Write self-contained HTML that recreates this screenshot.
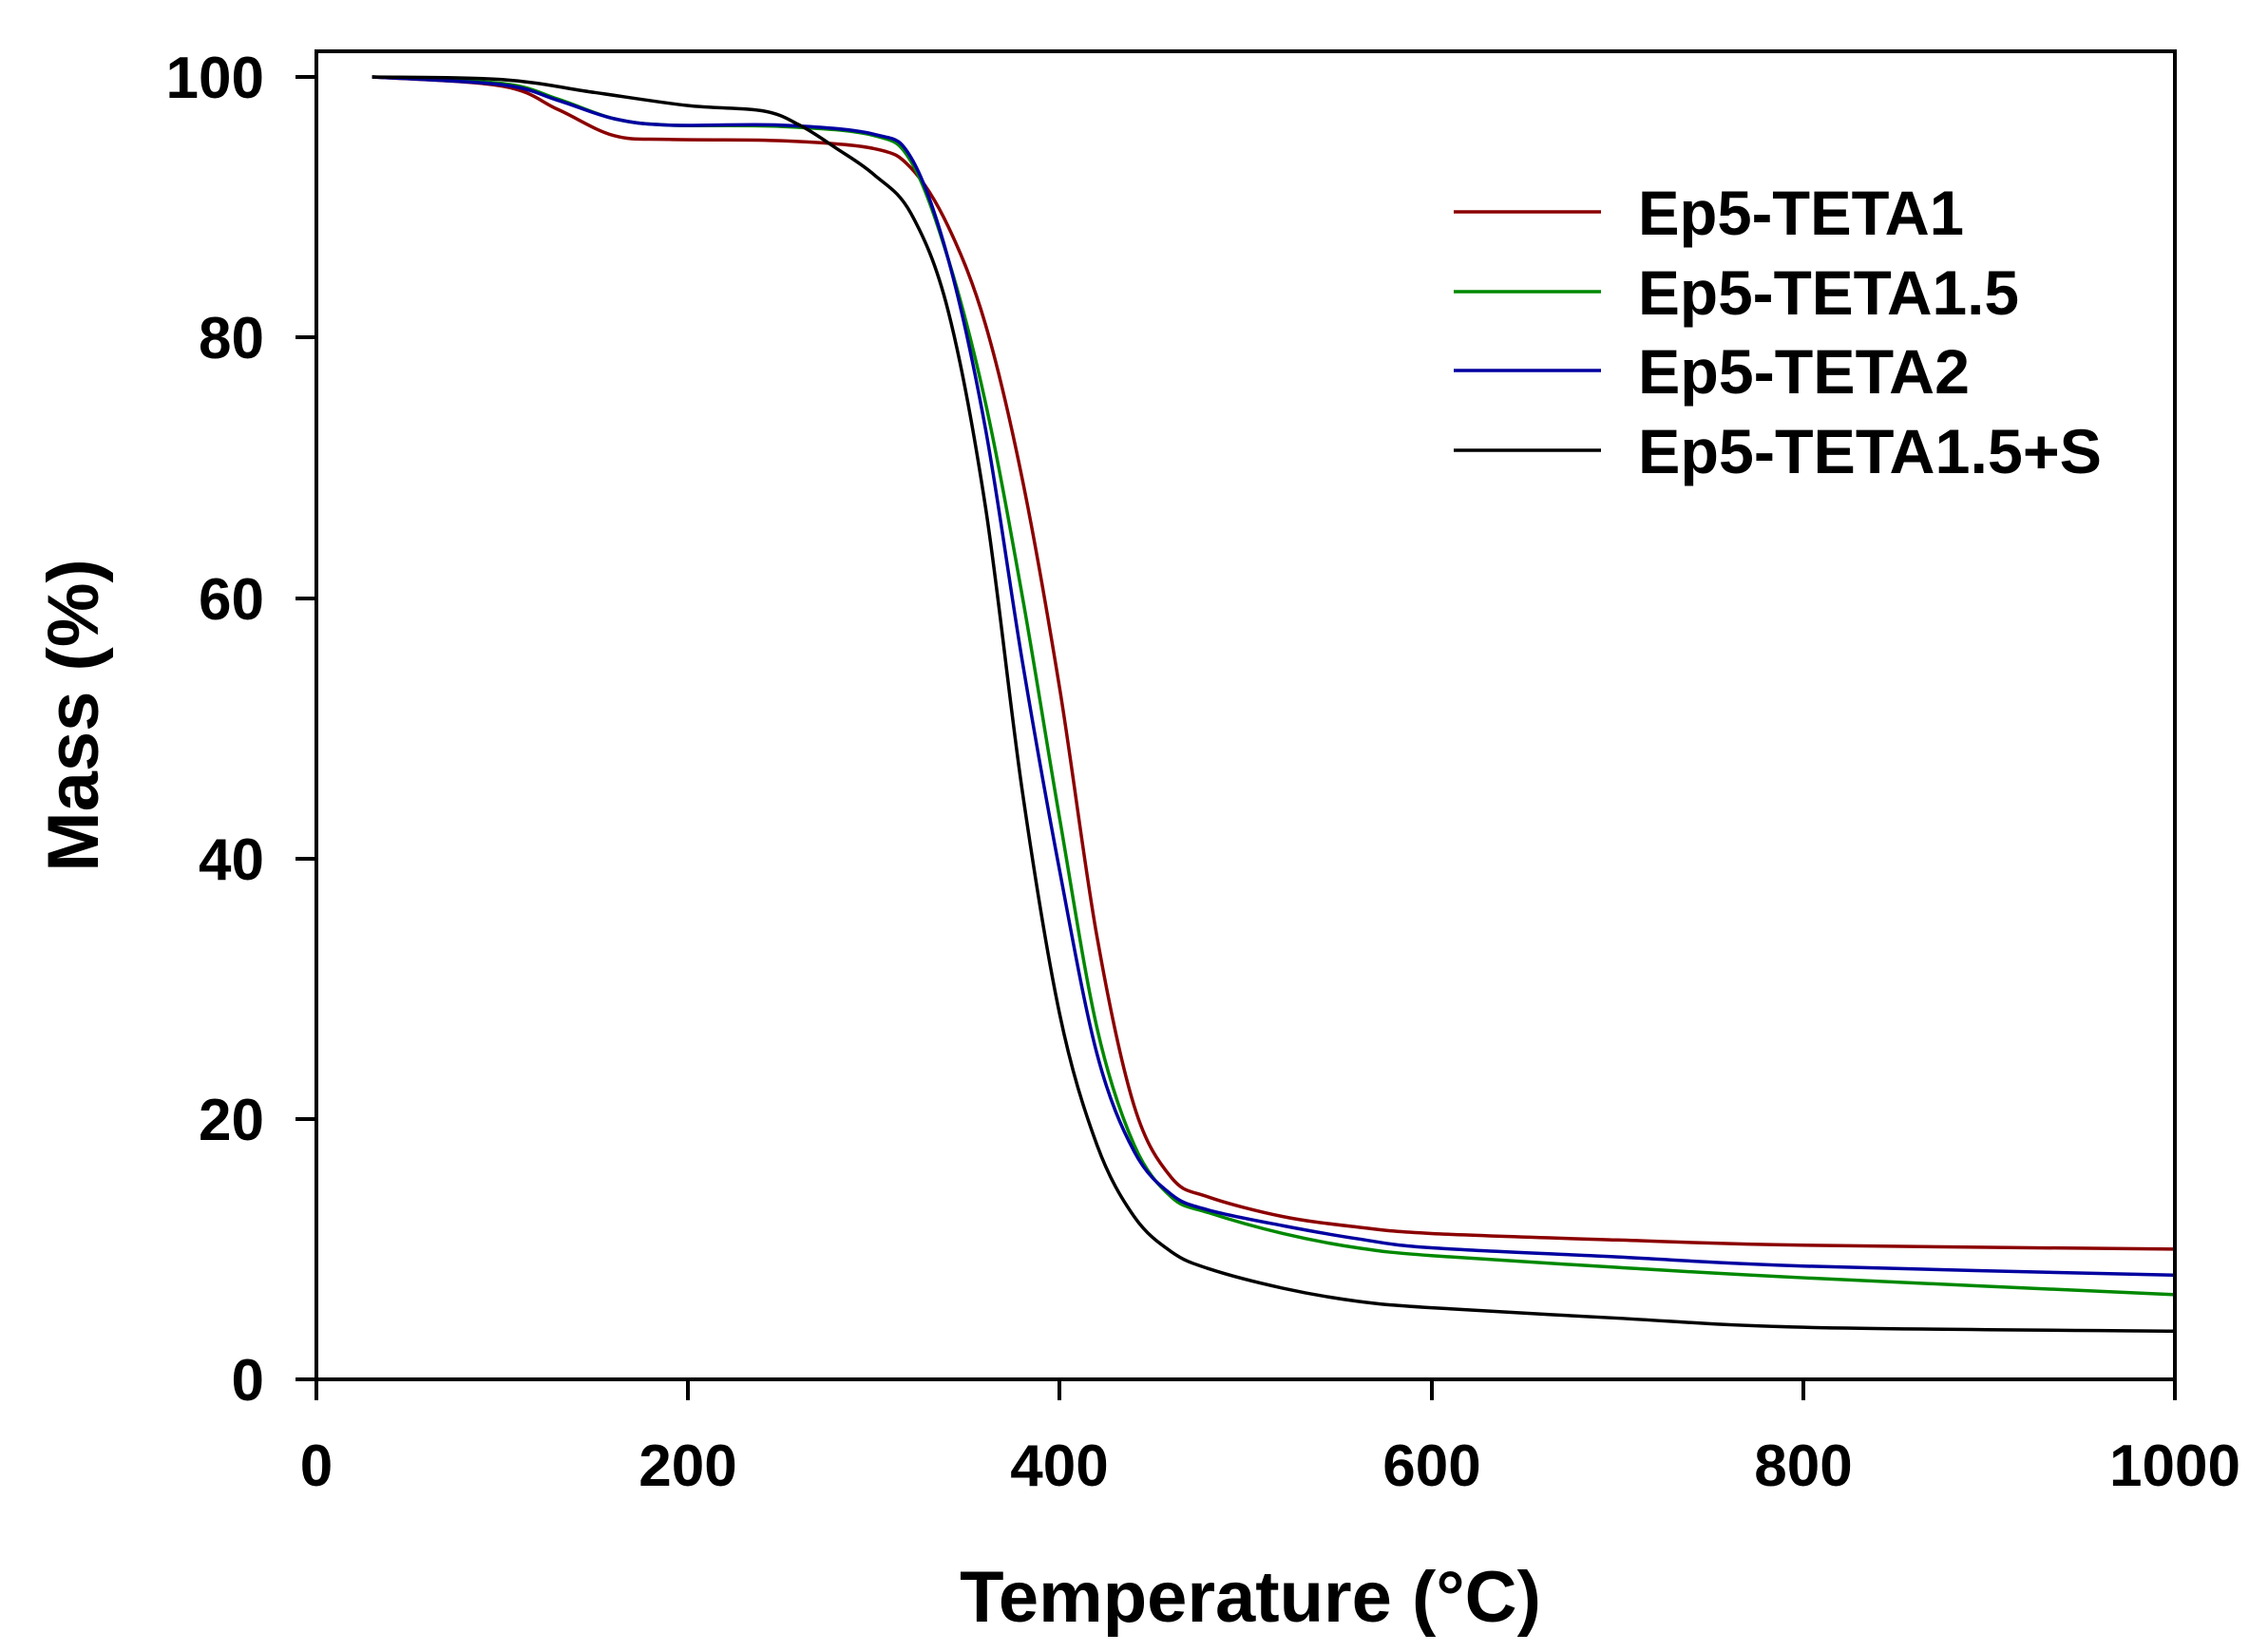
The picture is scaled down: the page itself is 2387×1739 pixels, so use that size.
<!DOCTYPE html>
<html><head><meta charset="utf-8"><style>
html,body{margin:0;padding:0;background:#fff;}
svg{display:block;}
text{font-family:"Liberation Sans",Arial,sans-serif;font-weight:bold;fill:#000;}
</style></head><body>
<svg id="s" width="2387" height="1739" viewBox="0 0 2387 1739" xmlns="http://www.w3.org/2000/svg">
<rect width="2387" height="1739" fill="#fff"/>
<g id="curves" fill="none" stroke-width="3.5" stroke-linejoin="round"></g>
<rect x="333" y="54" width="1956" height="1398" fill="none" stroke="#000" stroke-width="4"/>
<g stroke="#000" stroke-width="4">
<line x1="311" y1="81" x2="333" y2="81"/><line x1="311" y1="355" x2="333" y2="355"/>
<line x1="311" y1="630" x2="333" y2="630"/><line x1="311" y1="904" x2="333" y2="904"/>
<line x1="311" y1="1178" x2="333" y2="1178"/><line x1="311" y1="1452" x2="333" y2="1452"/>
<line x1="333" y1="1452" x2="333" y2="1474"/><line x1="724" y1="1452" x2="724" y2="1474"/>
<line x1="1115" y1="1452" x2="1115" y2="1474"/><line x1="1507" y1="1452" x2="1507" y2="1474"/>
<line x1="1898" y1="1452" x2="1898" y2="1474"/><line x1="2289" y1="1452" x2="2289" y2="1474"/>
</g>
<g font-size="62" text-anchor="end">
<text x="278" y="103">100</text><text x="278" y="377">80</text><text x="278" y="652">60</text>
<text x="278" y="926">40</text><text x="278" y="1200">20</text><text x="278" y="1474">0</text>
</g>
<g font-size="62" text-anchor="middle">
<text x="333" y="1564">0</text><text x="724" y="1564">200</text><text x="1115" y="1564">400</text>
<text x="1507" y="1564">600</text><text x="1898" y="1564">800</text><text x="2289" y="1564">1000</text>
</g>
<text x="1316" y="1707" font-size="76" text-anchor="middle">Temperature (°C)</text>
<text transform="translate(103,753) rotate(-90)" font-size="76" text-anchor="middle">Mass (%)</text>
<g stroke-width="3.5">
<line x1="1530" y1="223" x2="1685" y2="223" stroke="#8b0000"/>
<line x1="1530" y1="307" x2="1685" y2="307" stroke="#008800"/>
<line x1="1530" y1="390" x2="1685" y2="390" stroke="#0000a0"/>
<line x1="1530" y1="474" x2="1685" y2="474" stroke="#000"/>
</g>
<g font-size="66">
<text x="1724" y="247" textLength="343" lengthAdjust="spacingAndGlyphs">Ep5-TETA1</text>
<text x="1724" y="331" textLength="401" lengthAdjust="spacingAndGlyphs">Ep5-TETA1.5</text>
<text x="1724" y="414" textLength="349" lengthAdjust="spacingAndGlyphs">Ep5-TETA2</text>
<text x="1724" y="498" textLength="488" lengthAdjust="spacingAndGlyphs">Ep5-TETA1.5+S</text>
</g>
</svg>
<script>
const D={
"#8b0000":[[30,100],[100,99.3],[130,97.5],[160,95.5],[190,95.2],[250,95.1],[300,94.5],[320,93],[340,88.5],[360,81],[380,69],[400,53],[420,34],[440,21],[460,15.5],[480,14],[520,12.5],[560,11.7],[600,11.2],[700,10.7],[800,10.3],[1000,10]],
"#008800":[[30,100],[100,99.5],[130,98.3],[160,96.8],[190,96.3],[250,96.2],[300,95.5],[320,93.5],[340,86],[360,75],[380,60],[400,43],[420,27],[440,18],[460,14],[480,12.8],[520,11.2],[560,10.1],[600,9.5],[700,8.6],[800,7.8],[1000,6.5]],
"#0000a0":[[30,100],[100,99.4],[130,98.2],[160,96.8],[190,96.3],[250,96.3],[300,95.6],[320,93.8],[340,86],[360,73],[380,55],[400,39],[420,25],[440,17.5],[460,14.2],[480,13],[520,11.8],[560,10.8],[600,10.1],[700,9.4],[800,8.7],[1000,8]],
"#000000":[[30,100],[100,99.8],[150,98.8],[200,97.8],[240,97.4],[260,96.3],[280,94.5],[300,92.5],[320,89.5],[340,82],[360,67],[380,45],[400,28],[420,18],[440,12.5],[460,9.8],[480,8.5],[520,7],[560,6],[600,5.5],[700,4.7],[800,4],[1000,3.7]]};
const g=document.getElementById('curves');
for(const c in D){const p=D[c].map(([t,m])=>[333+1.956*t,1452-13.71*m]);
let d='M'+p[0][0]+','+p[0][1];
for(let i=0;i<p.length-1;i++){const a=p[i-1]||p[i],b=p[i],e=p[i+1],f=p[i+2]||e;
d+=` C${b[0]+(e[0]-a[0])/6},${b[1]+(e[1]-a[1])/6} ${e[0]-(f[0]-b[0])/6},${e[1]-(f[1]-b[1])/6} ${e[0]},${e[1]}`;}
const el=document.createElementNS('http://www.w3.org/2000/svg','path');el.setAttribute('d',d);el.setAttribute('stroke',c);g.appendChild(el);}
</script>
</body></html>
